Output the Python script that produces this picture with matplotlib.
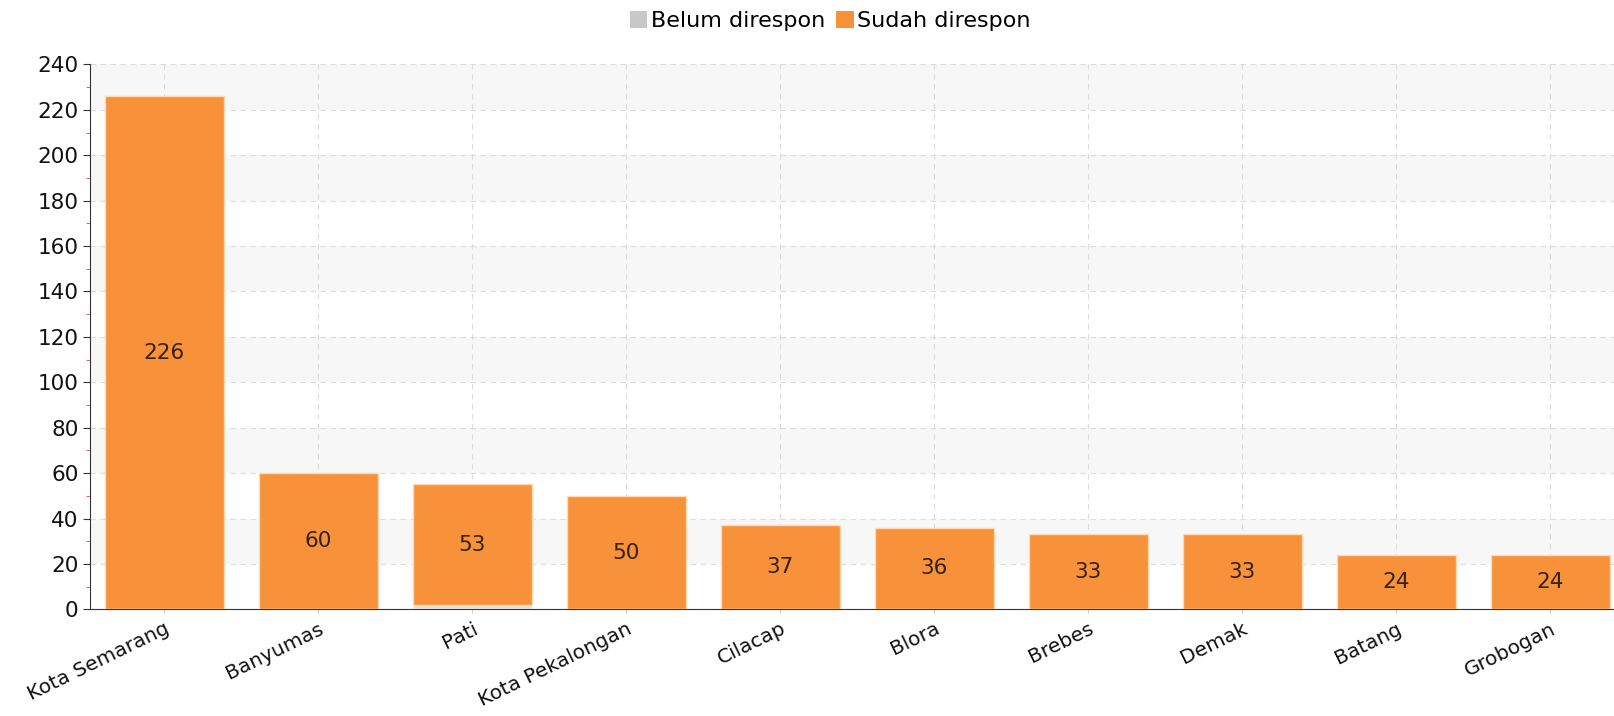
import numpy as np
import matplotlib.pyplot as plt
from matplotlib.ticker import MultipleLocator
from matplotlib.patches import Patch

regions = ["Kota Semarang", "Banyumas", "Pati", "Kota Pekalongan", "Cilacap",
           "Blora", "Brebes", "Demak", "Batang", "Grobogan"]
belum = [0, 0, 2, 0, 0, 0, 0, 0, 0, 0]
sudah = [226, 60, 53, 50, 37, 36, 33, 33, 24, 24]

c_belum = "#e4e0dc"
c_sudah = "#f7923a"

fig = plt.figure(figsize=(16.15, 7.16), dpi=100)
ax = fig.add_axes([0.056, 0.149, 0.944, 0.761])

x = np.arange(len(regions))
ax.bar(x, belum, width=0.77, color=c_belum, edgecolor="#f8efe6", linewidth=1, zorder=3)
ax.bar(x, sudah, width=0.77, bottom=belum, color=c_sudah, edgecolor="#ffd9b0",
       linewidth=1, zorder=3)

for xi, b, s in zip(x, belum, sudah):
    ax.text(xi, b + s / 2, str(s), ha="center", va="center", fontsize=15.5,
            color="#33200f", zorder=4)

ax.set_xlim(-0.48, 9.42)
ax.set_ylim(0, 240)

# alternating background bands
for lo in range(20, 240, 40):
    ax.axhspan(lo, lo + 20, color="#f7f7f7", zorder=0, lw=0)

ax.yaxis.set_major_locator(MultipleLocator(20))
ax.yaxis.set_minor_locator(MultipleLocator(10))
ax.grid(True, which="major", axis="both", color="#dcdcdc", linestyle=(0, (5, 4)),
        linewidth=0.8, zorder=1)

ax.set_xticks(x)
ax.set_xticklabels(regions, rotation=26, ha="right", rotation_mode="anchor",
                   fontsize=14.5, color="#111111")
ax.tick_params(axis="y", labelsize=15.5, length=5, color="#333333", labelcolor="#111111")
ax.tick_params(axis="y", which="minor", length=3, color="#e05050")
ax.tick_params(axis="x", length=3, pad=4, color="#cccccc")

for sp in ["top", "right"]:
    ax.spines[sp].set_visible(False)
ax.spines["left"].set_color("#333333")
ax.spines["bottom"].set_color("#333333")

handles = [Patch(facecolor="#c8c8c8", label="Belum direspon"),
           Patch(facecolor=c_sudah, label="Sudah direspon")]
fig.legend(handles=handles, loc="upper center", bbox_to_anchor=(0.514, 1.013), ncol=2,
           frameon=False, fontsize=16, handlelength=0.8, handleheight=0.8,
           handletextpad=0.15, columnspacing=0.5)

fig.savefig("out.png", dpi=100)
